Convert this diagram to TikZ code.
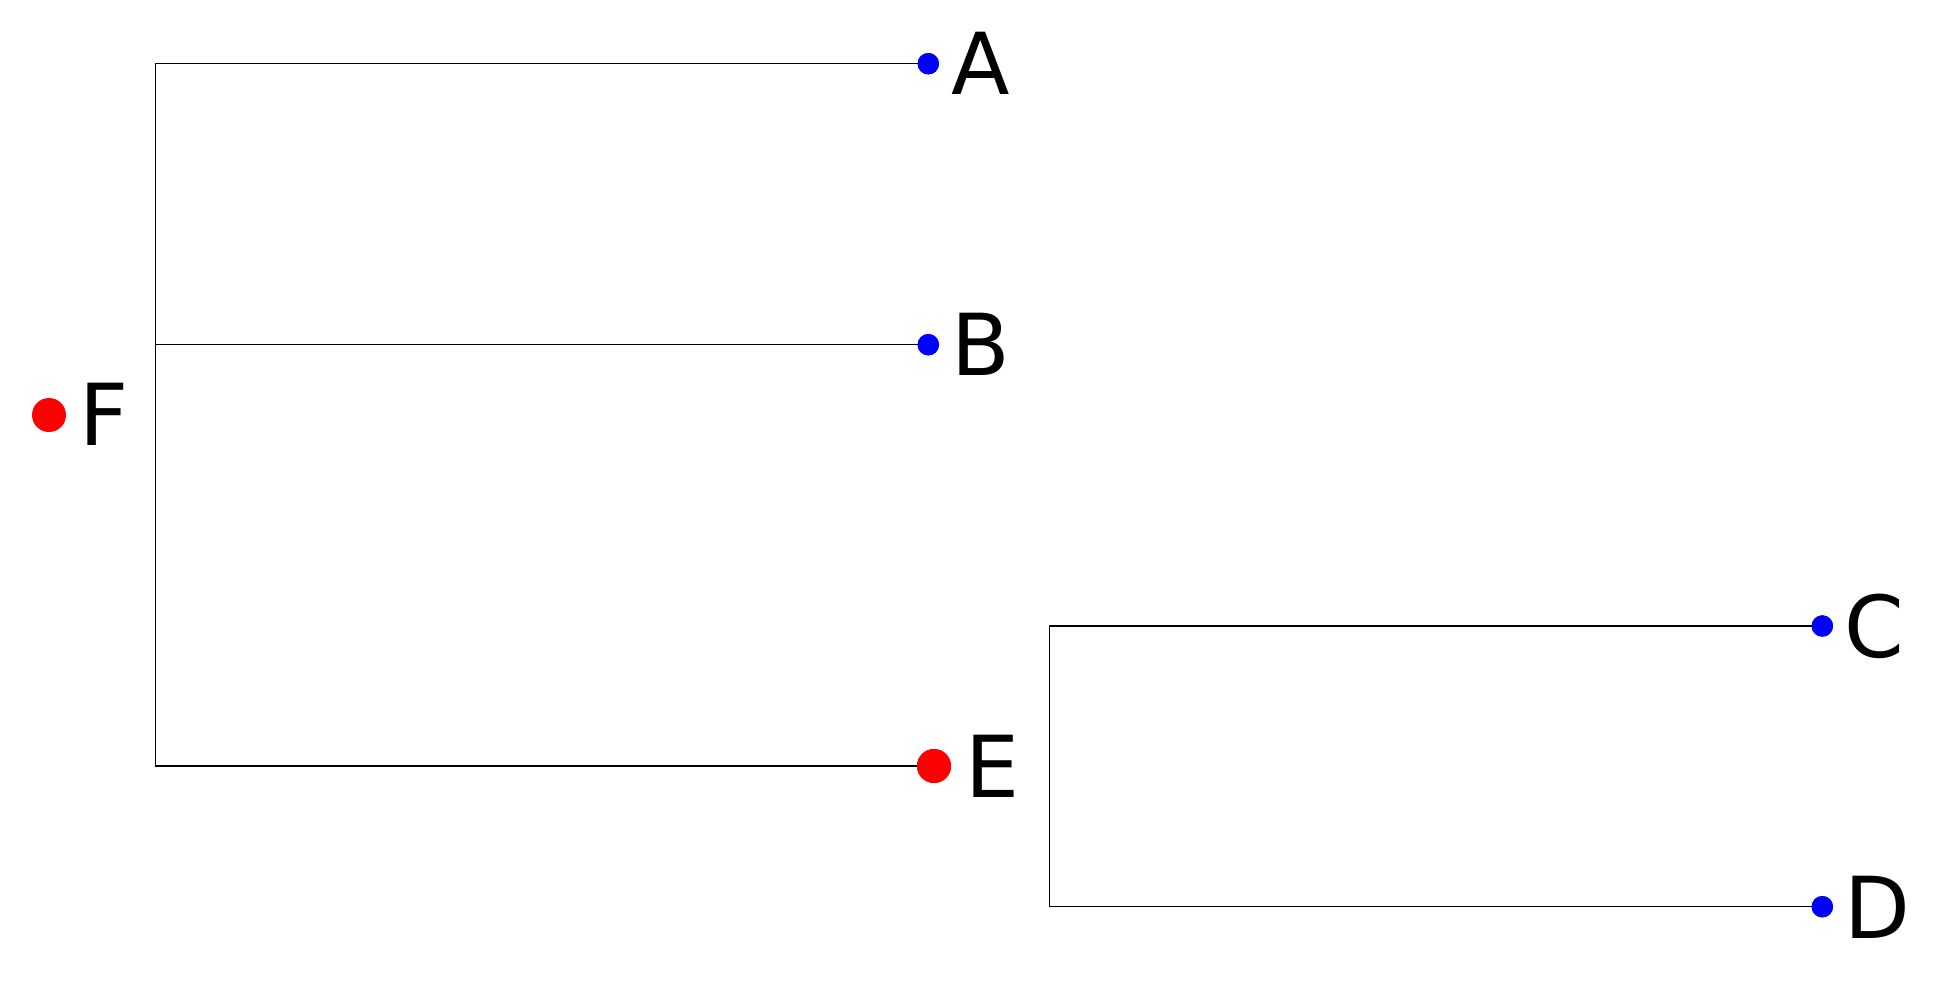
\documentclass[tikz,border=0pt]{standalone}
\usepackage{fontspec}
\setmainfont{DejaVu Sans}
\begin{document}
\begin{tikzpicture}[x=0.5pt,y=-0.5pt,
  leafdot/.style={circle,fill={rgb,255:red,0;green,0;blue,255},draw=none,inner sep=0pt,minimum size=10.7pt},
  innerdot/.style={circle,fill={rgb,255:red,255;green,0;blue,0},draw=none,inner sep=0pt,minimum size=17pt},
  lbl/.style={anchor=base west,inner sep=0pt,font=\fontsize{42.75pt}{50pt}\selectfont},
  branch/.style={draw=black,line width=0.55pt}]
\useasboundingbox (0,0) rectangle (1948,981);
% dots
\node[innerdot] (dF) at (49,415) {};
\node[leafdot] (dA) at (928.3,63.7) {};
\node[leafdot] (dB) at (928.3,344.7) {};
\node[innerdot] (dE) at (934,766) {};
\node[leafdot] (dC) at (1822.3,626) {};
\node[leafdot] (dD) at (1822.3,906.7) {};
% labels
\node[lbl] (tF) at (78.6,445) {F};
\node[lbl] (tA) at (951,94) {A};
\node[lbl] (tB) at (950.6,375) {B};
\node[lbl] (tE) at (964.6,797) {E};
\node[lbl] (tC) at (1844,657) {C};
\node[lbl] (tD) at (1844,938) {D};
% joints
\coordinate (fx) at (155.7,0);
\coordinate (ex) at (1049.7,0);
\begin{scope}[on background layer/.try]
\end{scope}
\draw[branch] (dA.center) -- (dA -| fx) -- (dE -| fx) -- (dE.center);
\draw[branch] (dB.center) -- (dB -| fx);
\draw[branch] (dC.center) -- (dC -| ex) -- (dD -| ex) -- (dD.center);
% redraw dots on top
\node[innerdot] at (dE) {};
\node[leafdot] at (dA) {};
\node[leafdot] at (dB) {};
\node[leafdot] at (dC) {};
\node[leafdot] at (dD) {};
\end{tikzpicture}
\end{document}
